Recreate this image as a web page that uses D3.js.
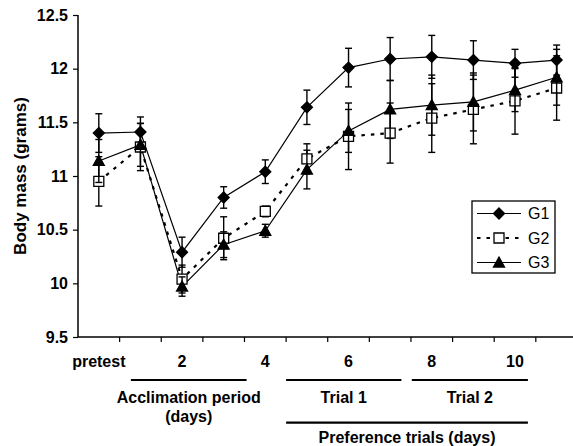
<!DOCTYPE html>
<html>
<head>
<meta charset="utf-8">
<script src="https://cdn.jsdelivr.net/npm/d3@7"></script>
<style>
	body { margin: 0; background: #fff; }
	text { font-family: "Liberation Sans", Arial, sans-serif; }
</style>
</head>
<body>
<div id="canvas"></div>
<script>

// categories along the x axis (12 measurement days, only some labelled)
var days = ["pretest", "d1", "2", "d3", "4", "d5", "6", "d7", "8", "d9", "10", "d11"]
var dayLabels = ["pretest", "", "2", "", "4", "", "6", "", "8", "", "10", ""]

// mean body mass (grams) and error bars
var g1 = [11.40, 11.41, 10.29, 10.80, 11.04, 11.64, 12.01, 12.09, 12.11, 12.08, 12.05, 12.08]
var g1Err = [0.18, 0.14, 0.14, 0.10, 0.11, 0.16, 0.18, 0.20, 0.20, 0.18, 0.13, 0.14]
var g2 = [10.95, 11.27, 10.04, 10.42, 10.67, 11.16, 11.37, 11.40, 11.54, 11.62, 11.70, 11.82]
var g2Err = [0.23, 0.22, 0.13, 0.20, 0.05, 0.14, 0.31, 0.28, 0.32, 0.32, 0.31, 0.30]
var g3 = [11.14, 11.29, 9.97, 10.36, 10.49, 11.06, 11.42, 11.62, 11.66, 11.69, 11.80, 11.92]
var g3Err = [0.20, 0.20, 0.09, 0.12, 0.06, 0.18, 0.20, 0.27, 0.28, 0.27, 0.20, 0.26]

var yTicks = [9.5, 10, 10.5, 11, 11.5, 12, 12.5]

// bracket annotations under the axis: [label lines, start, end, row]
var phases = [
	[["Acclimation period", "(days)"], 1.27, 4.05, 0],
	[["Trial 1"], 5.0, 7.77, 0],
	[["Trial 2"], 8.02, 10.81, 0],
	[["Preference trials (days)"], 5.0, 10.81, 1]
]

var series = [
	{ name: "G1", values: g1, err: g1Err, marker: "diamond", dash: null },
	{ name: "G2", values: g2, err: g2Err, marker: "square", dash: "3.5,6" },
	{ name: "G3", values: g3, err: g3Err, marker: "triangle", dash: null }
]

var W = 573, H = 446
var plotLeft = 78, plotTop = 15, plotBottom = 337
var fs = "16px"

var svg = d3.select("#canvas").append("svg")
	.attr("width", W)
	.attr("height", H)

var x = d3.scaleBand()
	.domain(days)
	.range([plotLeft, plotLeft + 12 * 41.62])
	.padding(0)

var y = d3.scaleLinear()
	.domain([9.5, 12.5])
	.range([plotBottom, plotTop])

function cx(i) { return x(days[i]) + x.bandwidth() / 2 }
function pos(f) { return x.range()[0] + f * x.step() }

function bold(sel) {
	return sel.style("font-size", fs).style("font-weight", "bold")
}

// y axis
var yAxis = svg.append("g")
	.attr("transform", "translate(" + plotLeft + ",0)")
	.call(d3.axisLeft(y).tickValues(yTicks).tickSize(5).tickPadding(5)
		.tickFormat(function (d) { return String(d) }))
yAxis.select(".domain").attr("stroke-width", 1.5).attr("d", "M0," + plotTop + "V" + plotBottom)
yAxis.selectAll("line").attr("stroke-width", 1.2)
bold(yAxis.selectAll("text"))
	.style("font-family", "Liberation Sans, Arial, sans-serif")
	.attr("fill", "#000")

// x axis: line, tick marks between categories, labels
svg.append("line")
	.attr("x1", plotLeft).attr("x2", x.range()[1])
	.attr("y1", plotBottom).attr("y2", plotBottom)
	.attr("stroke", "#000").attr("stroke-width", 1.5)

svg.selectAll(".xtick")
	.data(d3.range(1, days.length + 1))
	.enter().append("line")
		.attr("class", "xtick")
		.attr("x1", function (d) { return pos(d) })
		.attr("x2", function (d) { return pos(d) })
		.attr("y1", plotBottom).attr("y2", plotBottom + 5)
		.attr("stroke", "#000").attr("stroke-width", 1.2)

bold(svg.selectAll(".xlabel")
	.data(days)
	.enter().append("text")
		.attr("class", "xlabel")
		.attr("x", function (d, i) { return cx(i) })
		.attr("y", plotBottom + 30)
		.attr("text-anchor", "middle"))
		.text(function (d, i) { return dayLabels[i] })

// phase brackets
var phaseG = svg.selectAll(".phase")
	.data(phases)
	.enter().append("g")
		.attr("class", "phase")
		.attr("transform", function (d) { return "translate(0," + (d[3] * 42.7) + ")" })

phaseG.append("line")
	.attr("x1", function (d) { return pos(d[1]) })
	.attr("x2", function (d) { return pos(d[2]) })
	.attr("y1", 380).attr("y2", 380)
	.attr("stroke", "#000").attr("stroke-width", 2.2)

phaseG.each(function (d) {
	var g = d3.select(this)
	var mid = (pos(d[1]) + pos(d[2])) / 2
	d[0].forEach(function (t, k) {
		bold(g.append("text")
			.attr("x", mid)
			.attr("y", (d[3] ? 400.5 : 403) + k * 19)
			.attr("text-anchor", "middle"))
			.text(t)
	})
})

// y axis title
svg.append("text")
	.attr("transform", "translate(26," + ((plotTop + plotBottom) / 2) + ") rotate(-90)")
	.attr("text-anchor", "middle")
	.style("font-size", "17px")
	.style("font-weight", "bold")
	.text("Body mass (grams)")

// marker shapes
var shapes = {
	diamond: "M0,-5.5L5.5,0L0,5.5L-5.5,0Z",
	square: "M-5,-5H5V5H-5Z",
	triangle: "M0,-5.5L5.5,4.5L-5.5,4.5Z"
}
function markerFill(m) { return m === "square" ? "#fff" : "#000" }

var line = d3.line()
	.x(function (d, i) { return cx(i) })
	.y(function (d) { return y(d) })

// series lines
svg.selectAll(".sline")
	.data(series)
	.enter().append("path")
		.attr("class", "sline")
		.attr("d", function (d) { return line(d.values) })
		.attr("fill", "none")
		.attr("stroke", "#000")
		.attr("stroke-width", function (d) { return d.dash ? 2.2 : 1.2 })
		.attr("stroke-dasharray", function (d) { return d.dash })

// error bars and markers per series
series.forEach(function (s) {
	var g = svg.append("g")
	var pts = s.values.map(function (v, i) { return { i: i, v: v, e: s.err[i] } })

	var eb = g.selectAll(".err").data(pts).enter().append("g")
	eb.append("line")
		.attr("x1", function (d) { return cx(d.i) }).attr("x2", function (d) { return cx(d.i) })
		.attr("y1", function (d) { return y(d.v - d.e) }).attr("y2", function (d) { return y(d.v + d.e) })
		.attr("stroke", "#000").attr("stroke-width", 1.4)
	eb.append("line")
		.attr("x1", function (d) { return cx(d.i) - 3.5 }).attr("x2", function (d) { return cx(d.i) + 3.5 })
		.attr("y1", function (d) { return y(d.v + d.e) }).attr("y2", function (d) { return y(d.v + d.e) })
		.attr("stroke", "#000").attr("stroke-width", 1.4)
	eb.append("line")
		.attr("x1", function (d) { return cx(d.i) - 3.5 }).attr("x2", function (d) { return cx(d.i) + 3.5 })
		.attr("y1", function (d) { return y(d.v - d.e) }).attr("y2", function (d) { return y(d.v - d.e) })
		.attr("stroke", "#000").attr("stroke-width", 1.4)

	g.selectAll(".mk").data(pts).enter().append("path")
		.attr("transform", function (d) { return "translate(" + cx(d.i) + "," + y(d.v) + ")" })
		.attr("d", shapes[s.marker])
		.attr("fill", markerFill(s.marker))
		.attr("stroke", "#000")
		.attr("stroke-width", 1.3)
})

// legend
var legend = svg.append("g").attr("transform", "translate(472,201)")
legend.append("rect")
	.attr("width", 83).attr("height", 72)
	.attr("fill", "#fff").attr("stroke", "#000").attr("stroke-width", 1.3)

var item = legend.selectAll(".item")
	.data(series)
	.enter().append("g")
		.attr("transform", function (d, i) { return "translate(0," + (12.5 + i * 24.5) + ")" })

item.append("line")
	.attr("x1", 5).attr("x2", 49)
	.attr("stroke", "#000")
	.attr("stroke-width", function (d) { return d.dash ? 2.2 : 1.2 })
	.attr("stroke-dasharray", function (d) { return d.dash })
item.append("path")
	.attr("transform", "translate(27,0)")
	.attr("d", function (d) { return shapes[d.marker] })
	.attr("fill", function (d) { return markerFill(d.marker) })
	.attr("stroke", "#000").attr("stroke-width", 1.3)
item.append("text")
	.attr("x", 56).attr("dy", "0.35em")
	.style("font-size", "16px")
	.text(function (d) { return d.name })

</script>
</body>
</html>
